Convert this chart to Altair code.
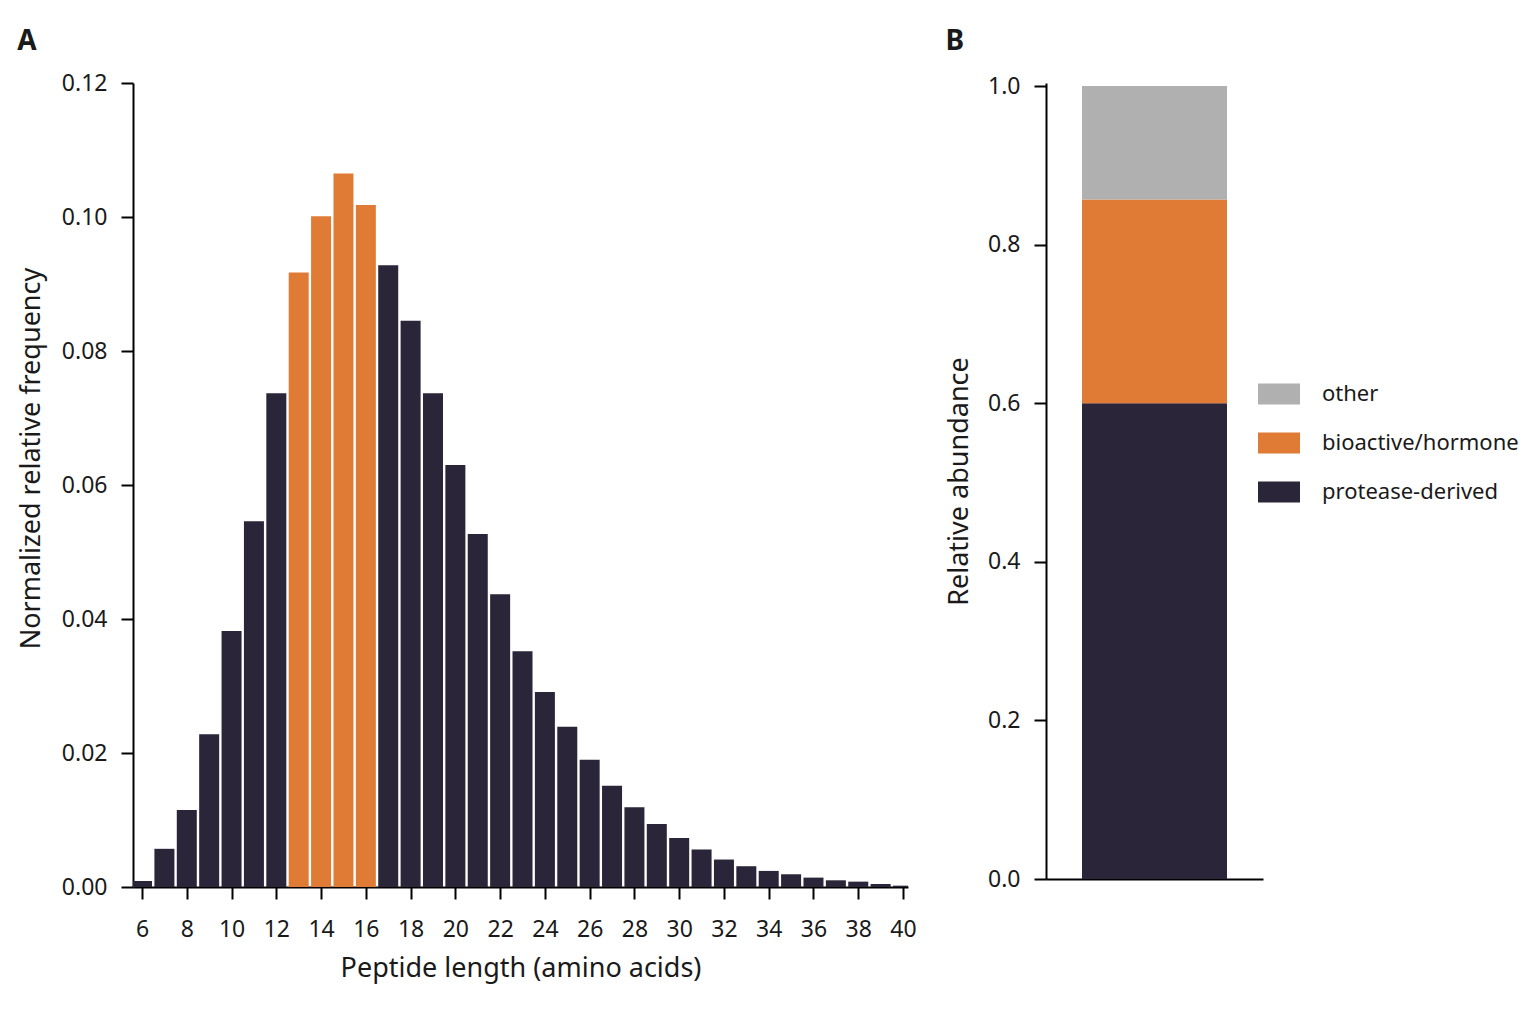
import altair as alt
import pandas as pd

# ---- Panel A data ----
lengths = list(range(6, 41))
freq = [0.0009, 0.0057, 0.0115, 0.0228, 0.0382, 0.0546, 0.0737, 0.0917, 0.1001,
        0.1065, 0.1018, 0.0928, 0.0845, 0.0737, 0.0630, 0.0527, 0.0437, 0.0352,
        0.0291, 0.0239, 0.0190, 0.0151, 0.0119, 0.0094, 0.0073, 0.0056, 0.0041,
        0.0031, 0.0024, 0.0019, 0.0014, 0.0010, 0.0008, 0.00045, 0.0002]
highlight = [13, 14, 15, 16]
x_ticks = list(range(6, 41, 2))
y_ticks_a = [0.0, 0.02, 0.04, 0.06, 0.08, 0.10, 0.12]

# ---- Panel B data ----
classes = ["protease-derived", "bioactive/hormone", "other"]
abundance = [0.600, 0.257, 0.143]
stack_rank = [0, 1, 2]
legend_order = ["other", "bioactive/hormone", "protease-derived"]
y_ticks_b = [0.0, 0.2, 0.4, 0.6, 0.8, 1.0]

DARK = "#2a2538"
ORANGE = "#e07b36"
GRAY = "#b0b0b0"
FONT = "Noto Sans"
TXT = "#1a1a1a"

df_a = pd.DataFrame({
    "length": lengths,
    "freq": freq,
    "grp": ["hl" if l in highlight else "base" for l in lengths],
})
df_b = pd.DataFrame({
    "cls": classes,
    "val": abundance,
    "rank": stack_rank,
    "col": ["B"] * len(classes),
})

axis_common = dict(
    domainColor="black", domainWidth=2, tickColor="black", tickWidth=2,
    tickSize=12, labelFont=FONT, labelFontSize=23, labelColor=TXT,
    titleFont=FONT, titleFontSize=27, titleColor=TXT, titleFontWeight="normal",
    grid=False,
)

chart_a = alt.Chart(df_a).mark_bar(width=20, clip=True).encode(
    x=alt.X("length:Q",
            scale=alt.Scale(domain=[5.82, 40], nice=False, zero=False),
            axis=alt.Axis(values=x_ticks, title="Peptide length (amino acids)",
                          labelPadding=19, titlePadding=14, **axis_common)),
    y=alt.Y("freq:Q",
            scale=alt.Scale(domain=[0, 0.12], nice=False),
            axis=alt.Axis(values=y_ticks_a, format=".2f",
                          title="Normalized relative frequency",
                          labelPadding=14, titlePadding=16, titleY=375,
                          **axis_common)),
    color=alt.Color("grp:N", scale=alt.Scale(domain=["base", "hl"], range=[DARK, ORANGE]),
                    legend=None),
).properties(
    width=775, height=804,
    title=alt.TitleParams("A", anchor="start", font=FONT, fontSize=28,
                          fontWeight="bold", color=TXT, offset=16),
)

chart_b = alt.Chart(df_b).mark_bar(size=145).encode(
    x=alt.X("col:N", axis=alt.Axis(labels=False, ticks=False, title=None,
                                   domainColor="black", domainWidth=2)),
    y=alt.Y("val:Q", stack="zero",
            scale=alt.Scale(domain=[0, 1.0038], nice=False),
            axis=alt.Axis(values=y_ticks_b, format=".1f", title="Relative abundance",
                          labelPadding=14, titlePadding=14, **axis_common)),
    color=alt.Color("cls:N",
                    scale=alt.Scale(domain=legend_order, range=[GRAY, ORANGE, DARK]),
                    legend=alt.Legend(title=None, orient="none", legendX=212, legendY=290,
                                      symbolType="M-1,-0.5H1V0.5H-1Z", symbolSize=1764,
                                      symbolStrokeWidth=0, labelFont=FONT, labelFontSize=22,
                                      labelColor=TXT, rowPadding=17, labelOffset=22,
                                      labelLimit=400)),
    order=alt.Order("rank:Q"),
).properties(
    width=217, height=796,
    title=alt.TitleParams("B", anchor="start", font=FONT, fontSize=28,
                          fontWeight="bold", color=TXT, offset=19),
)

chart = alt.hconcat(chart_a, chart_b, spacing=28).resolve_scale(
    color="independent"
).properties(
    padding={"left": 9, "top": 20, "right": 5, "bottom": 5},
    background="white",
).configure_view(stroke="transparent", strokeWidth=0)

chart.save("out.html", embed_options={"renderer": "svg", "actions": False})
